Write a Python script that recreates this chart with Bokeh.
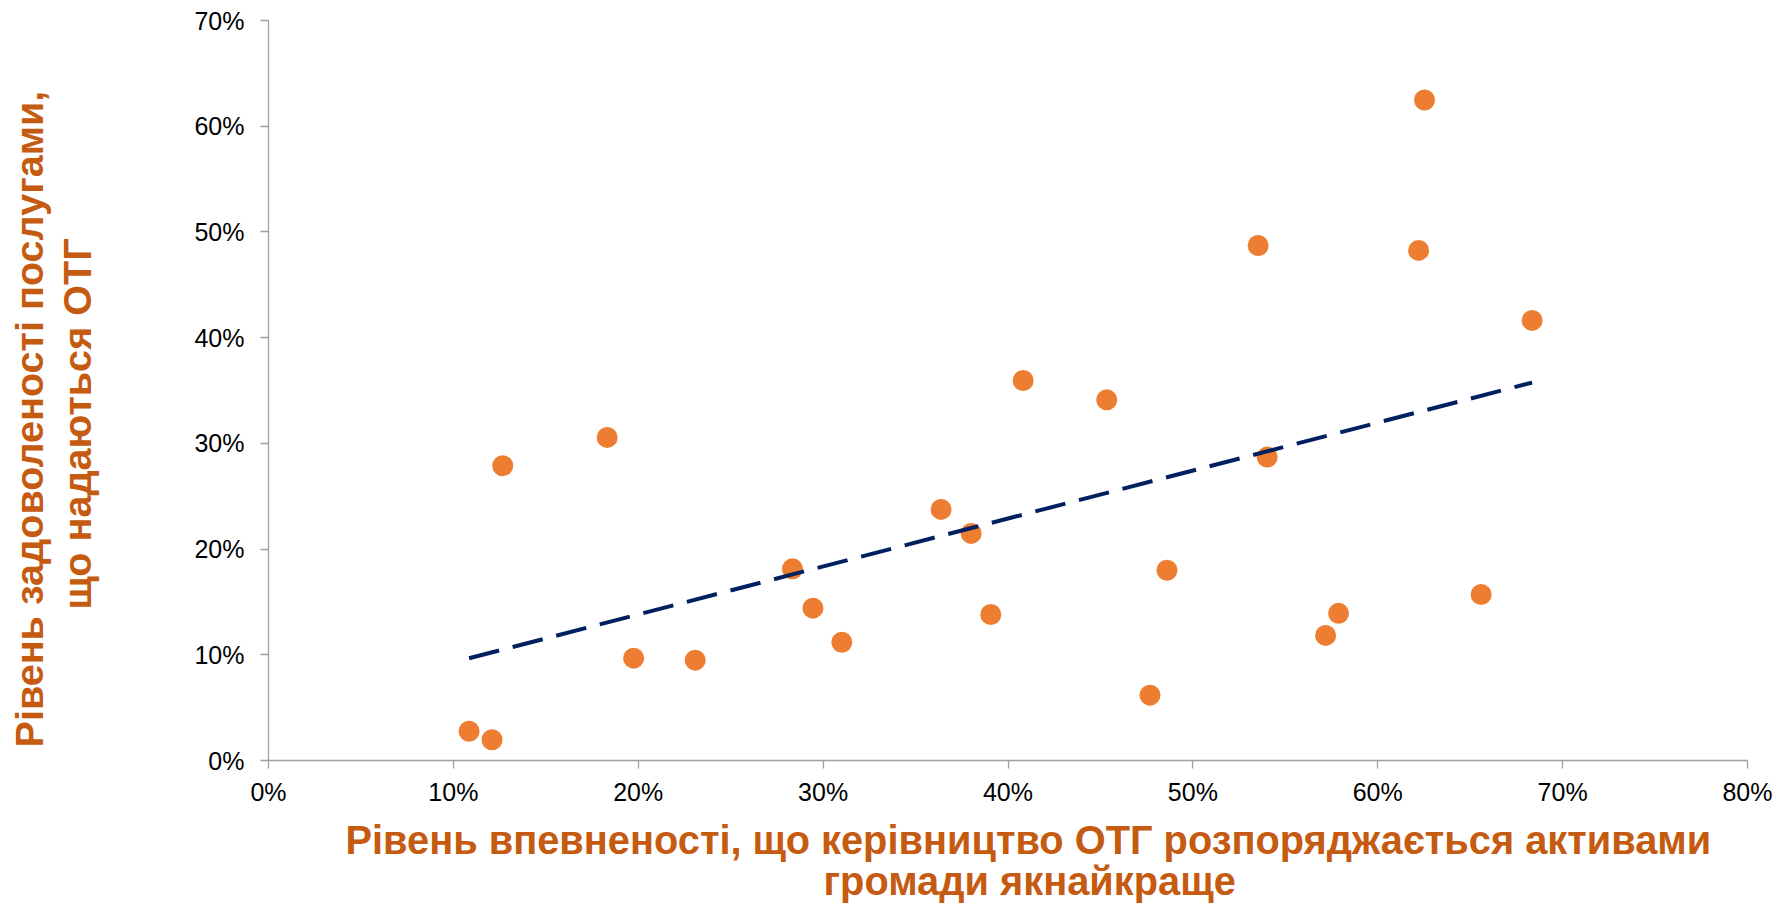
import numpy as np
from bokeh.plotting import figure
from bokeh.models import Range1d, FixedTicker, NumeralTickFormatter, Title, ColumnDataSource
from bokeh.embed import file_html
from bokeh.resources import INLINE

# Data (fractions)
confidence = [0.1085, 0.1209, 0.1267, 0.1832, 0.1975, 0.2308, 0.2834, 0.2945,
              0.3101, 0.3638, 0.3801, 0.3907, 0.4082, 0.4534, 0.4860, 0.4768,
              0.5402, 0.6253, 0.5353, 0.6221, 0.6835, 0.6559, 0.5788, 0.5718]
satisfaction = [0.0277, 0.0196, 0.2788, 0.3056, 0.0968, 0.0949, 0.1813, 0.1441,
                0.1119, 0.2375, 0.2148, 0.1381, 0.3595, 0.3412, 0.1800, 0.0618,
                0.2870, 0.6248, 0.4872, 0.4825, 0.4163, 0.1570, 0.1392, 0.1183]
x_ticks = [0, 0.1, 0.2, 0.3, 0.4, 0.5, 0.6, 0.7, 0.8]
y_ticks = [0, 0.1, 0.2, 0.3, 0.4, 0.5, 0.6, 0.7]
x_title_lines = ["Рівень впевненості, що керівництво ОТГ розпоряджається активами",
                 "громади якнайкраще"]
y_title_lines = ["Рівень задоволеності послугами,", "що надаються ОТГ"]

ORANGE = "#ED7D31"
TITLE_ORANGE = "#C55A11"
NAVY = "#002060"
AXIS_GRAY = "#A0A0A0"
FONT = "Liberation Sans"

p = figure(width=1773, height=903, output_backend="svg", toolbar_location=None,
           x_range=Range1d(0, 0.8), y_range=Range1d(0, 0.7),
           min_border_left=268, min_border_right=26, min_border_top=20,
           min_border_bottom=143)
p.outline_line_color = None
p.xgrid.visible = False
p.ygrid.visible = False

for ax, ticks, standoff in ((p.xaxis[0], x_ticks, 9), (p.yaxis[0], y_ticks, 16)):
    ax.ticker = FixedTicker(ticks=ticks, minor_ticks=[])
    ax.formatter = NumeralTickFormatter(format="0%")
    ax.axis_line_color = AXIS_GRAY
    ax.axis_line_width = 1.3
    ax.major_tick_line_color = AXIS_GRAY
    ax.major_tick_line_width = 1.3
    ax.major_tick_out = 8
    ax.major_tick_in = 0
    ax.minor_tick_line_color = None
    ax.major_label_text_font = FONT
    ax.major_label_text_font_size = "25px"
    ax.major_label_text_color = "#000000"
    ax.major_label_standoff = standoff

src = ColumnDataSource(dict(x=confidence, y=satisfaction))
p.scatter("x", "y", source=src, size=21, fill_color=ORANGE, line_color=None)

slope, intercept = np.polyfit(confidence, satisfaction, 1)
tx = [min(confidence), max(confidence)]
ty = [slope * v + intercept for v in tx]
p.line(tx, ty, line_color=NAVY, line_width=4, line_dash="31 14", line_cap="butt")

def mk_title(text, offset, size="39.6px", standoff=0.0):
    return Title(text=text, align="left", offset=offset, text_font=FONT,
                 text_font_size=size, text_font_style="bold",
                 text_color=TITLE_ORANGE, standoff=standoff,
                 vertical_align="bottom")

# x-axis title lines (stacked below the axis)
p.add_layout(mk_title(x_title_lines[0], 77, size="39.8px", standoff=14), "below")
p.add_layout(mk_title(x_title_lines[1], 555, size="39.8px", standoff=-23), "below")
# y-axis title lines: spacer, then the inner line, then the outer line
p.add_layout(mk_title(" ", 0, size="81.5px"), "left")
p.add_layout(mk_title(y_title_lines[1], 151), "left")
p.add_layout(mk_title(y_title_lines[0], 13, standoff=3.4), "left")

open("out.html", "w").write(file_html(p, INLINE))
